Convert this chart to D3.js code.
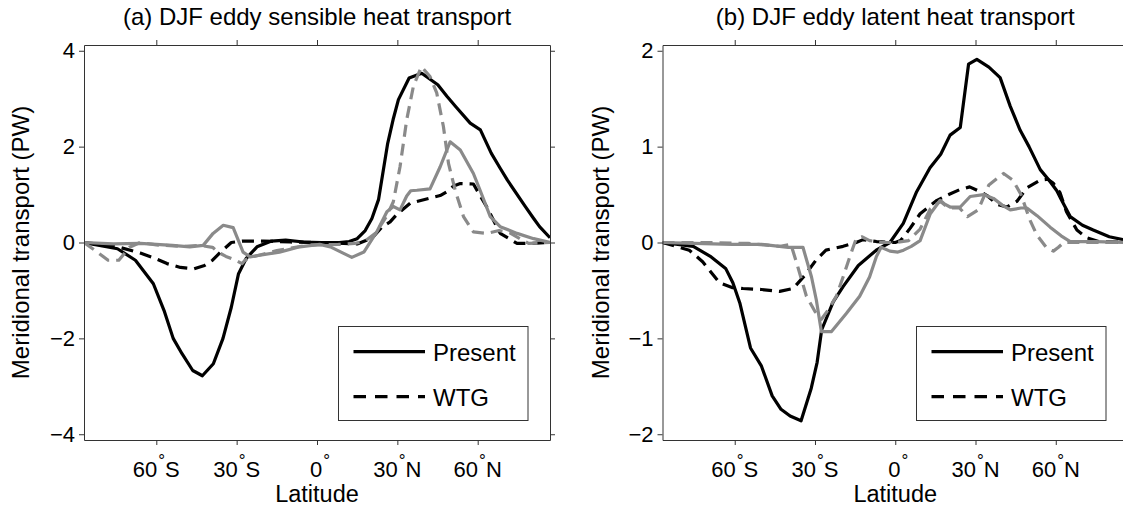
<!DOCTYPE html>
<html><head><meta charset="utf-8">
<script src="https://cdn.jsdelivr.net/npm/d3@7"></script>
<style>
body{margin:0;background:#fff}
svg{display:block}
text{font-family:"Liberation Sans",Arial,Helvetica,sans-serif;fill:#000}
</style>
</head><body>
<svg id="c" width="1123" height="508"></svg>
<script>
// ---------- data (latitude, PW) ----------
const latTicks = [-60, -30, 0, 30, 60];
const latTickNums = ["60", "30", "0", "30", "60"];
const latTickHemi = ["S", "S", "", "N", "N"];
const sensTicks = [-4, -2, 0, 2, 4];
const latTicksY = [-2, -1, 0, 1, 2];
const legendLabels = ["Present", "WTG"];

const sensPresent = [[-87,0],[-74.5,-0.13],[-67.8,-0.37],[-61.1,-0.86],[-57.1,-1.42],[-53.7,-2],[-50.4,-2.32],[-46.4,-2.67],[-42.8,-2.78],[-38.7,-2.53],[-35.1,-2],[-32,-1.35],[-29.3,-0.65],[-26.4,-0.33],[-22.4,-0.09],[-17,0.03],[-11.7,0.05],[-5,0.01],[1.7,0],[8.3,0],[12,0.02],[15,0.08],[18,0.25],[20.5,0.5],[23,0.9],[26.4,2.07],[28.4,2.56],[30.4,2.98],[34.4,3.43],[39.1,3.53],[45.1,3.29],[48.5,3.05],[52,2.82],[57.2,2.49],[61,2.35],[65.1,1.86],[68.4,1.55],[71.1,1.3],[77.8,0.75],[80.9,0.5],[83.1,0.33],[87,0.1]];
const sensWTG = [[-87,0],[-75,-0.08],[-66,-0.22],[-61,-0.32],[-56,-0.44],[-51,-0.52],[-46,-0.55],[-42,-0.48],[-39,-0.37],[-36,-0.2],[-32,0.0],[-28,0.03],[-20,0.03],[-10,0.01],[0,0],[10,-0.02],[15,-0.03],[19,0.06],[21,0.12],[24.4,0.33],[27.3,0.43],[29.7,0.58],[34.8,0.82],[41.7,0.92],[46,0.98],[48.5,1.06],[51,1.18],[53.5,1.23],[58.4,1.22],[63.4,0.74],[68.4,0.19],[74.7,-0.02],[79.6,-0.02],[87,0]];
const sensGraySolid = [[-87,0],[-76,-0.03],[-66,-0.02],[-54,-0.06],[-47.5,-0.09],[-42.5,-0.06],[-38.8,0.19],[-35,0.36],[-31.3,0.31],[-27.6,-0.2],[-25,-0.3],[-14,-0.2],[-6.4,-0.09],[1,-0.04],[5,-0.09],[13,-0.31],[17.5,-0.2],[22.3,0.22],[26.1,0.64],[28.5,0.75],[31,0.68],[33.5,0.97],[35,1.08],[37.3,1.09],[42.2,1.12],[46,1.58],[49.7,2.1],[53.5,1.93],[58.4,1.44],[60.9,1.09],[64.7,0.54],[68.4,0.33],[74.7,0.19],[80.9,0.08],[87,0]];
const sensGrayDashed = [[-87,0],[-83,-0.16],[-78,-0.37],[-74,-0.37],[-70,-0.1],[-66,0.0],[-60,-0.05],[-50,-0.08],[-44,-0.06],[-39,-0.1],[-37,-0.2],[-34,-0.29],[-30,-0.38],[-28,-0.44],[-26.7,-0.36],[-24,-0.3],[-15,-0.17],[-5,-0.07],[0,-0.05],[8,-0.04],[14,-0.02],[18,0.03],[22,0.2],[26,0.55],[28.5,0.85],[31,1.58],[33.5,2.56],[36,3.26],[39,3.67],[42.2,3.46],[44.7,3.12],[47.2,2.42],[49.1,1.65],[51.6,1.09],[54.7,0.54],[58.4,0.22],[63.4,0.19],[68,0.25],[72,0.2],[79,-0.02],[87,0]];

const latPresent = [[-87,0],[-75.5,-0.04],[-68.8,-0.15],[-63.4,-0.27],[-60.7,-0.42],[-58.1,-0.63],[-54.1,-1.1],[-50,-1.29],[-46,-1.6],[-42.7,-1.74],[-39.3,-1.81],[-35.2,-1.86],[-31.4,-1.52],[-29.2,-1.25],[-27.5,-0.91],[-23.2,-0.62],[-19.5,-0.46],[-13.8,-0.24],[-7.1,-0.08],[-2,0],[3,0.2],[8,0.53],[13,0.78],[17,0.92],[20.5,1.12],[24.3,1.2],[27.4,1.86],[30.5,1.91],[35,1.83],[39.2,1.72],[43,1.42],[46.7,1.17],[50,1.0],[54.2,0.76],[57.5,0.65],[60.4,0.54],[62,0.45],[65.4,0.27],[70,0.18],[74,0.13],[80,0.06],[87,0.02]];
const latWTG = [[-87,0],[-77,-0.08],[-72,-0.2],[-65.7,-0.42],[-61,-0.47],[-56.9,-0.48],[-50,-0.49],[-43.2,-0.51],[-38.2,-0.48],[-34,-0.35],[-29.5,-0.18],[-25.9,-0.08],[-19.5,-0.04],[-14.6,0],[-12,0.03],[-7,0.01],[0,0],[2,0.02],[5.6,0.15],[9.3,0.3],[15.6,0.44],[20,0.5],[24,0.55],[27.8,0.58],[31.8,0.53],[34.3,0.49],[38,0.4],[41.7,0.37],[45.5,0.43],[49.2,0.57],[54.2,0.65],[57,0.66],[59,0.62],[61.6,0.52],[64,0.32],[67.9,0.13],[71.6,0.05],[76,0.01],[87,0]];
const latGraySolid = [[-87,0],[-75,-0.01],[-61,-0.02],[-50,-0.02],[-40,-0.05],[-34.5,-0.05],[-31.3,-0.36],[-29.5,-0.6],[-27.6,-0.93],[-23.9,-0.93],[-18.3,-0.74],[-13.3,-0.56],[-9.6,-0.36],[-7.1,-0.15],[-5.3,-0.05],[-2,-0.09],[1,-0.1],[3.1,-0.08],[6,-0.04],[9.3,0.02],[13.1,0.3],[16.8,0.44],[18.5,0.4],[20.5,0.37],[24.3,0.37],[28,0.48],[33,0.5],[36.7,0.46],[40,0.39],[43,0.34],[47,0.36],[49.2,0.36],[53,0.28],[57.9,0.16],[62,0.07],[65.4,0.01],[75,0.01],[87,0]];
const latGrayDashed = [[-87,0],[-70,0],[-55,-0.01],[-43,-0.04],[-39,-0.02],[-37,-0.2],[-33.2,-0.56],[-30,-0.72],[-27.6,-0.8],[-25,-0.7],[-22,-0.56],[-19.5,-0.36],[-17,-0.15],[-14.6,0.04],[-12.5,0.06],[-9.6,0.02],[-5,0],[0,0],[5,0.02],[9.3,0.14],[13.1,0.35],[16.8,0.43],[20,0.36],[24,0.36],[27,0.27],[31,0.34],[35,0.6],[40.5,0.72],[44,0.65],[47,0.5],[50.4,0.23],[52.9,0.08],[56.7,-0.06],[59.1,-0.09],[61,-0.05],[63,0],[70,0],[87,0]];

// ---------- layout ----------
const BLACK = "#000", GRAY = "#8a8a8a", DASH = "12,7", LW = 3.2;
const panels = [
  { title: "(a) DJF eddy sensible heat transport", x0: 84, x1: 550, ydom: [-4.12, 4.12], yticks: sensTicks,
    ylabX: 29, series: [
      { d: sensPresent, c: BLACK, dash: null }, { d: sensWTG, c: BLACK, dash: DASH },
      { d: sensGraySolid, c: GRAY, dash: null }, { d: sensGrayDashed, c: GRAY, dash: DASH }] },
  { title: "(b) DJF eddy latent heat transport", x0: 662.5, x1: 1128, ydom: [-2.06, 2.06], yticks: latTicksY,
    ylabX: 609, series: [
      { d: latPresent, c: BLACK, dash: null }, { d: latWTG, c: BLACK, dash: DASH },
      { d: latGraySolid, c: GRAY, dash: null }, { d: latGrayDashed, c: GRAY, dash: DASH }] }
];
const Y0 = 45, Y1 = 440;
const svg = d3.select("#c");
const fmtY = d => (d < 0 ? "\u2212" : "") + Math.abs(d);

panels.forEach((p, pi) => {
  const x = d3.scaleLinear().domain([-87, 87]).range([p.x0, p.x1]);
  const y = d3.scaleLinear().domain(p.ydom).range([Y1, Y0]);
  const g = svg.append("g");
  const clipId = "clip" + pi;
  svg.append("clipPath").attr("id", clipId).append("rect")
    .attr("x", p.x0).attr("y", Y0).attr("width", p.x1 - p.x0).attr("height", Y1 - Y0);

  // lines
  const line = d3.line().x(d => x(d[0])).y(d => y(d[1]));
  const lg = g.append("g").attr("clip-path", `url(#${clipId})`);
  p.series.forEach(s => {
    lg.append("path").attr("d", line(s.d)).attr("fill", "none")
      .attr("stroke", s.c).attr("stroke-width", LW)
      .attr("stroke-dasharray", s.dash).attr("stroke-linejoin", "round");
  });

  // axes (all four sides, ticks outward)
  const style = a => {
    a.selectAll(".domain").attr("stroke", "#333").attr("stroke-width", 1);
    a.selectAll(".tick line").attr("stroke", "#333").attr("stroke-width", 1);
    a.attr("font-family", '"Liberation Sans",Arial,sans-serif').attr("font-size", 22);
    a.selectAll("text").attr("fill", "#000");
  };
  g.append("g").attr("transform", `translate(0,${Y1})`)
    .call(d3.axisBottom(x).tickValues(latTicks).tickFormat("").tickSize(5).tickSizeOuter(0)).call(style);
  g.append("g").attr("transform", `translate(0,${Y0})`)
    .call(d3.axisTop(x).tickValues(latTicks).tickFormat("").tickSize(5).tickSizeOuter(0)).call(style);
  g.append("g").attr("transform", `translate(${p.x0},0)`)
    .call(d3.axisLeft(y).tickValues(p.yticks).tickFormat(fmtY).tickSize(5).tickPadding(4).tickSizeOuter(0)).call(style);
  g.append("g").attr("transform", `translate(${p.x1},0)`)
    .call(d3.axisRight(y).tickValues(p.yticks).tickFormat("").tickSize(5).tickSizeOuter(0)).call(style);

  // x tick labels with superscript degree
  latTicks.forEach((t, i) => {
    const tx = g.append("text").attr("x", x(t) + (latTickHemi[i] ? 0 : 3)).attr("y", 476.5)
      .attr("text-anchor", "middle").attr("font-size", 22);
    tx.append("tspan").text(latTickNums[i]);
    tx.append("tspan").attr("font-size", 17).attr("dy", -11).attr("dx", 1).text("°");
    if (latTickHemi[i]) tx.append("tspan").attr("dy", 11).text(latTickHemi[i]);
  });

  // titles / labels
  g.append("text").attr("x", (p.x0 + p.x1) / 2).attr("y", 25).attr("text-anchor", "middle")
    .attr("font-size", 24).text(p.title);
  g.append("text").attr("x", x(0)).attr("y", 502).attr("text-anchor", "middle")
    .attr("font-size", 23.5).text("Latitude");
  g.append("text").attr("transform", `translate(${p.ylabX},${(Y0 + Y1) / 2}) rotate(-90)`)
    .attr("text-anchor", "middle").attr("font-size", 24).text("Meridional transport (PW)");

  // legend
  const bx1 = p.x1 - 22, bx0 = bx1 - 189.5;
  const lgd = g.append("g");
  lgd.append("rect").attr("x", bx0).attr("y", 326.5).attr("width", bx1 - bx0).attr("height", 94)
    .attr("fill", "#fff").attr("stroke", "#333").attr("stroke-width", 1);
  [0, 1].forEach(k => {
    const ly = 351.7 + k * 45;
    lgd.append("line").attr("x1", bx0 + 15).attr("x2", bx0 + 86.5).attr("y1", ly).attr("y2", ly)
      .attr("stroke", BLACK).attr("stroke-width", LW).attr("stroke-dasharray", k ? "12.5,9" : null);
    lgd.append("text").attr("x", bx0 + 94.5).attr("y", ly + 9.5).attr("font-size", 24).text(legendLabels[k]);
  });
});
</script>
</body></html>
